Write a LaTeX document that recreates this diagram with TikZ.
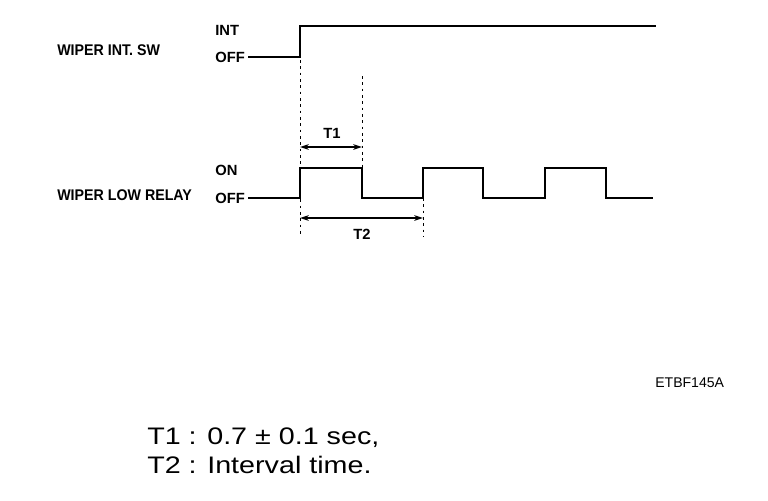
\documentclass[tikz,border=0pt]{standalone}
\usepackage{fontspec}
\setmainfont{Liberation Sans}
\newfontfamily\namefont[FakeStretch=0.92]{Liberation Sans}
\newfontfamily\widefont[FakeStretch=1.2]{Liberation Sans}
\usetikzlibrary{arrows.meta, positioning}

\begin{document}
\begin{tikzpicture}[
  x=0.025cm, y=-0.025cm,
  sig/.style={line width=1.6pt, line join=miter},
  guide/.style={line width=0.4pt, dash pattern=on 2pt off 2.5pt},
  span/.style={{Stealth[length=2.2mm,width=1.4mm]}-{Stealth[length=2.2mm,width=1.4mm]}, line width=1.1pt},
  lbl/.style={font=\namefont\bfseries\fontsize{11}{13}\selectfont, inner sep=0pt, anchor=west},
  lvl/.style={font=\bfseries\fontsize{10.5}{12}\selectfont, inner sep=0pt, anchor=west},
  note/.style={font=\widefont\fontsize{17}{24}\selectfont, inner sep=0pt, anchor=west}
]
\useasboundingbox (0,0) rectangle (768,500);

% signal names
\node[lbl] (intsw) at (57,50) {WIPER INT. SW};
\node[lbl] (lowrelay) at (57,195) {WIPER LOW RELAY};

% level labels
\node[lvl] (intHi) at (215,30) {INT};
\node[lvl] (intLo) at (215,57) {OFF};
\node[lvl] (relHi) at (215,170) {ON};
\node[lvl] (relLo) at (215,198) {OFF};

% switch trace
\coordinate (swStart) at (248,57);
\coordinate (swRise) at (300,57);
\draw[sig] (swStart) -- (swRise) -- (300,26) -- (656,26);

% relay trace
\coordinate (rlStart) at (248,198);
\draw[sig] (rlStart) -- (300,198) -- (300,168) -- (362,168) -- (362,198)
  -- (423,198) -- (423,168) -- (483,168) -- (483,198)
  -- (545,198) -- (545,168) -- (606,168) -- (606,198) -- (653,198);

% guide lines
\coordinate (g1top) at (300,60);
\coordinate (g1bot) at (300,237);
\coordinate (g2top) at (362,76);
\coordinate (g2bot) at (362,168);
\coordinate (g3top) at (423,198);
\coordinate (g3bot) at (423,237);
\draw[guide] (g1top) -- (g1bot);
\draw[guide] (g2top) -- (g2bot);
\draw[guide] (g3top) -- (g3bot);

% timing spans
\coordinate (t1a) at (300,147);
\coordinate (t1b) at (362,147);
\coordinate (t2a) at (300,218);
\coordinate (t2b) at (423,218);
\draw[span] (t1a) -- (t1b);
\draw[span] (t2a) -- (t2b);
\node[lvl, anchor=center] (t1lbl) at (332,133) {T1};
\node[lvl, anchor=center] (t2lbl) at (362,234) {T2};

\node[font=\fontsize{10}{12}\selectfont, inner sep=0pt, anchor=west] (code) at (655,383) {ETBF145A};

\node[note] (noteA) at (147,438) {T1 : 0.7 ± 0.1 sec,};
\node[note] (noteB) at (147,465) {T2 : Interval time.};

\end{tikzpicture}
\end{document}
